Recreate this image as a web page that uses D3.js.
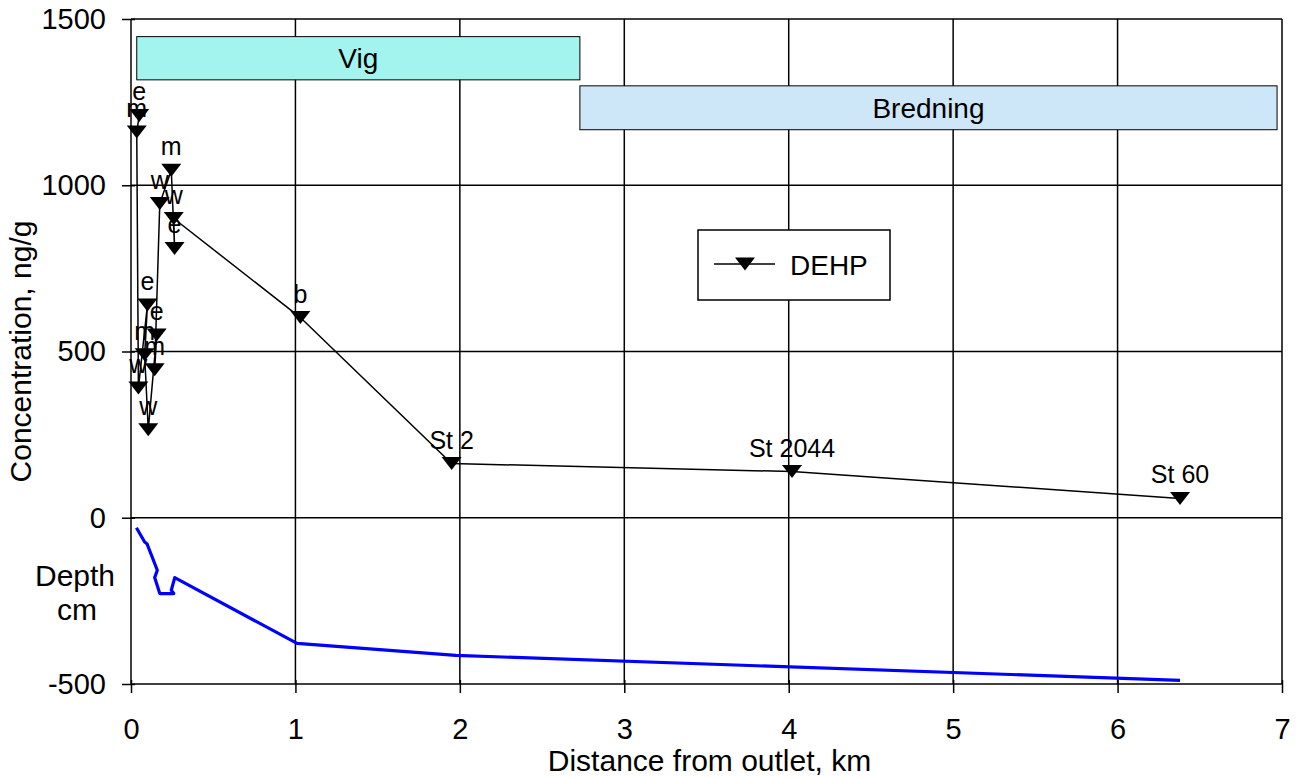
<!DOCTYPE html>
<html>
<head>
<meta charset="utf-8">
<script src="https://cdn.jsdelivr.net/npm/d3@7"></script>
<style>
  html, body { margin: 0; padding: 0; background: #fff; }
  svg { display: block; font-family: "Liberation Sans", Arial, sans-serif; }
</style>
</head>
<body>
<svg id="chart" width="1298" height="778"></svg>
<script>
// DEHP in sediment (ng/g) along the transect, in sampling order
const dehpDistance = [0.05, 0.035, 0.045, 0.10, 0.083, 0.105, 0.156, 0.144, 0.175, 0.245, 0.265, 0.26, 1.03, 1.95, 4.02, 6.38];
const dehpValue    = [1210, 1160, 390, 640, 490, 265, 550, 445, 945, 1045, 810, 900, 602, 163, 139, 58];
const dehpLabel    = ["e", "m", "w", "e", "m", "w", "e", "m", "w", "m", "e", "w", "b", "St 2", "St 2044", "St 60"];

// Water depth (cm, negative downwards) along the same transect
const depthDistance = [0.033, 0.083, 0.097, 0.16, 0.144, 0.175, 0.26, 0.245, 0.266, 1.01, 1.975, 6.38];
const depthValue    = [-30, -73, -78, -158, -180, -228, -228, -218, -180, -378, -414, -489];

// Axis ticks
const xTicks = [0, 1, 2, 3, 4, 5, 6, 7];
const yTicks = [-500, 0, 500, 1000, 1500];

// Area bands drawn across the top of the plot
const areaNames = ["Vig", "Bredning"];
const areaFrom  = [0.035, 2.73];
const areaTo    = [2.73, 6.97];
const areaTop   = [1447, 1299];
const areaBot   = [1317, 1167];
const areaFill  = ["#a3f4ee", "#cde6f8"];

(function draw() {
  const svg = d3.select("#chart");
  const mLeft = 131, mRight = 1282, mTop = 19, mBottom = 684;

  const x = d3.scaleLinear().domain([0, 7]).range([mLeft, mRight]);
  const y = d3.scaleLinear().domain([-500, 1500]).range([mBottom, mTop]);

  const FONT = 28, TICK_FONT = 29, TITLE_FONT = 30;
  const plain = v => String(v);   // hyphen-minus, as typed

  // grid lines
  const grid = svg.append("g").attr("stroke", "#000").attr("stroke-width", 1.5);
  xTicks.forEach(t => {
    grid.append("line").attr("x1", x(t)).attr("x2", x(t)).attr("y1", y(1500)).attr("y2", y(-500));
  });
  yTicks.forEach(t => {
    grid.append("line").attr("x1", x(0)).attr("x2", x(7)).attr("y1", y(t)).attr("y2", y(t));
  });

  // axes with crossing tick marks
  const xAxis = svg.append("g").attr("transform", `translate(0,${mBottom})`)
    .call(d3.axisBottom(x).tickValues(xTicks).tickFormat(plain).tickSize(9).tickPadding(25));
  xAxis.select(".domain").remove();
  xAxis.selectAll(".tick line").clone().attr("y2", -4);
  xAxis.selectAll("line").attr("stroke", "#000").attr("stroke-width", 1.5);
  xAxis.selectAll("text").attr("font-size", TICK_FONT).attr("font-family", "Liberation Sans, Arial, sans-serif").attr("fill", "#000");

  const yAxis = svg.append("g").attr("transform", `translate(${mLeft},0)`)
    .call(d3.axisLeft(y).tickValues(yTicks).tickFormat(plain).tickSize(9).tickPadding(16));
  yAxis.select(".domain").remove();
  yAxis.selectAll(".tick line").clone().attr("x2", 4);
  yAxis.selectAll("line").attr("stroke", "#000").attr("stroke-width", 1.5);
  yAxis.selectAll("text").attr("font-size", TICK_FONT).attr("font-family", "Liberation Sans, Arial, sans-serif").attr("fill", "#000");

  // area bands
  areaNames.forEach((name, i) => {
    svg.append("rect")
      .attr("x", x(areaFrom[i])).attr("y", y(areaTop[i]))
      .attr("width", x(areaTo[i]) - x(areaFrom[i]))
      .attr("height", y(areaBot[i]) - y(areaTop[i]))
      .attr("fill", areaFill[i]).attr("stroke", "#000").attr("stroke-width", 1);
    svg.append("text")
      .attr("x", (x(areaFrom[i]) + x(areaTo[i])) / 2)
      .attr("y", (y(areaTop[i]) + y(areaBot[i])) / 2 + 10)
      .attr("text-anchor", "middle").attr("font-size", FONT).text(name);
  });

  // depth profile
  const depthPts = depthDistance.map((d, i) => [d, depthValue[i]]);
  svg.append("path")
    .datum(depthPts)
    .attr("fill", "none").attr("stroke", "#0000ff").attr("stroke-width", 3.2)
    .attr("stroke-linejoin", "round")
    .attr("d", d3.line().x(d => x(d[0])).y(d => y(d[1])));

  // DEHP series
  const dehpPts = dehpDistance.map((d, i) => ({ d, v: dehpValue[i], label: dehpLabel[i] }));
  svg.append("path")
    .datum(dehpPts)
    .attr("fill", "none").attr("stroke", "#000").attr("stroke-width", 1.5)
    .attr("d", d3.line().x(p => x(p.d)).y(p => y(p.v)));

  const tri = "M-10,-6.5 L10,-6.5 L0,6.5 Z";
  svg.append("g").selectAll("path")
    .data(dehpPts).join("path")
    .attr("transform", p => `translate(${x(p.d)},${y(p.v)})`)
    .attr("d", tri).attr("fill", "#000");

  svg.append("g").selectAll("text")
    .data(dehpPts).join("text")
    .attr("x", p => x(p.d)).attr("y", p => y(p.v) - 15)
    .attr("text-anchor", "middle").attr("font-size", 25).text(p => p.label);

  // legend
  const lg = svg.append("g");
  lg.append("rect").attr("x", 698).attr("y", 230).attr("width", 192).attr("height", 70)
    .attr("fill", "#fff").attr("stroke", "#000").attr("stroke-width", 1.5);
  lg.append("line").attr("x1", 714).attr("x2", 775).attr("y1", 264).attr("y2", 264)
    .attr("stroke", "#000").attr("stroke-width", 1.5);
  lg.append("path").attr("transform", "translate(745,264)").attr("d", tri).attr("fill", "#000");
  lg.append("text").attr("x", 790).attr("y", 275).attr("font-size", FONT).text("DEHP");

  // axis titles, centred on the axis lengths
  svg.append("text").attr("x", (mLeft + mRight) / 2 + 3).attr("y", 771)
    .attr("text-anchor", "middle").attr("font-size", TITLE_FONT).text("Distance from outlet, km");
  svg.append("text").attr("transform", `translate(31,${(mTop + mBottom) / 2}) rotate(-90)`)
    .attr("text-anchor", "middle").attr("font-size", TITLE_FONT).text("Concentration, ng/g");
  svg.append("text").attr("x", 75).attr("y", 586).attr("text-anchor", "middle").attr("font-size", TITLE_FONT).text("Depth");
  svg.append("text").attr("x", 77).attr("y", 620).attr("text-anchor", "middle").attr("font-size", TITLE_FONT).text("cm");
})();
</script>
</body>
</html>
